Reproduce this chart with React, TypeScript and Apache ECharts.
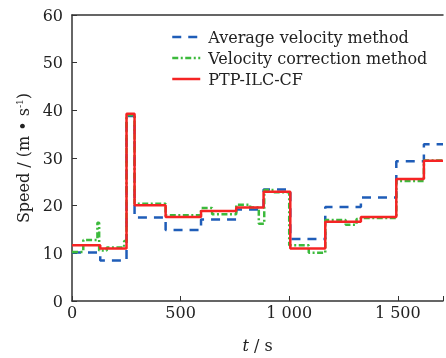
import React, { useEffect, useRef } from "react";
import * as echarts from "echarts";

// Step start times (s) and speeds (m/s)
const stepTimes = [0, 130, 251, 288, 431, 594, 756, 882, 1005, 1166, 1330, 1493, 1620, 1708];
const avgVelocity = [10.2, 8.5, 38.8, 17.5, 14.9, 17.1, 19.2, 23.4, 13.0, 19.7, 21.7, 29.3, 32.9, 32.9];
const ptpIlcCf = [11.7, 11.0, 39.3, 20.1, 17.6, 18.9, 19.6, 22.9, 11.0, 16.6, 17.6, 25.6, 29.4, 29.4];

const corrTimes = [0, 52, 117, 125, 160, 240, 251, 288, 431, 594, 645, 756, 820, 860, 885, 930, 1000, 1090, 1166, 1260, 1310, 1330, 1493, 1620, 1708];
const corrVelocity = [10.3, 12.8, 16.4, 10.6, 11.2, 12.6, 39.0, 20.4, 18.0, 19.5, 18.2, 20.2, 19.6, 16.2, 23.3, 22.8, 11.7, 10.1, 17.0, 16.0, 17.2, 17.4, 25.2, 29.5, 29.6];

const xTicks = [0, 500, 1000, 1500];
const seriesNames = ["Average velocity method", "Velocity correction method", "PTP-ILC-CF"];

const FONT = "DejaVu Serif";

export default function App() {
  const ref = useRef<HTMLDivElement>(null);
  useEffect(() => {
    if (!ref.current) return;
    const chart = echarts.init(ref.current, undefined, { renderer: "svg" });
    const pair = (t: number[], v: number[]) => t.map((x, i) => [x, v[i]]);
    const axisColor = "#333";
    chart.setOption({
      animation: false,
      textStyle: { fontFamily: FONT },
      grid: { left: 72, top: 15, right: 0, bottom: 55, containLabel: false },
      legend: {
        orient: "vertical",
        left: 166,
        top: 24,
        itemWidth: 28,
        itemHeight: 12,
        itemGap: 5,
        data: seriesNames,
        itemStyle: { opacity: 0 },
        lineStyle: { width: 2.5 },
        textStyle: { fontFamily: FONT, fontSize: 16, color: "#222", padding: [0, 0, 0, 3] },
      },
      xAxis: [
        {
          type: "value",
          min: 0,
          max: 1708,
          interval: 500,
          name: "{i|t} / s",
          nameLocation: "middle",
          nameGap: 36,
          nameTextStyle: {
            fontFamily: FONT,
            fontSize: 16,
            color: "#222",
            rich: { i: { fontStyle: "italic", fontFamily: FONT, fontSize: 16, color: "#222" } },
          },
          axisLine: { show: true, lineStyle: { color: axisColor, width: 1.5 } },
          axisTick: { show: true, inside: true, length: 5, lineStyle: { color: axisColor } },
          axisLabel: {
            fontFamily: FONT,
            fontSize: 16,
            color: "#222",
            margin: 3,
            formatter: (v: number) =>
              xTicks.includes(v) ? (v >= 1000 ? `${Math.floor(v / 1000)} ${String(v % 1000).padStart(3, "0")}` : String(v)) : "",
          },
          splitLine: { show: false },
        },
        {
          type: "value",
          position: "top",
          min: 0,
          max: 1708,
          axisLine: { show: true, lineStyle: { color: axisColor, width: 1.5 } },
          axisTick: { show: false },
          axisLabel: { show: false },
          splitLine: { show: false },
        },
      ],
      yAxis: {
        type: "value",
        min: 0,
        max: 60,
        interval: 10,
        name: "Speed / (m • s{sup|-1})",
        nameLocation: "middle",
        nameGap: 40,
        nameRotate: 90,
        nameTextStyle: {
          fontFamily: FONT,
          fontSize: 16,
          color: "#222",
          rich: { sup: { fontFamily: FONT, fontSize: 9, color: "#222", verticalAlign: "top", padding: [0, 0, 8, 0] } },
        },
        axisLine: { show: true, lineStyle: { color: axisColor, width: 1.5 } },
        axisTick: { show: true, inside: true, length: 5, lineStyle: { color: axisColor } },
        axisLabel: { fontFamily: FONT, fontSize: 16, color: "#222", margin: 9 },
        splitLine: { show: false },
      },
      series: [
        {
          name: seriesNames[0],
          type: "line",
          step: "end",
          symbol: "none",
          data: pair(stepTimes, avgVelocity),
          itemStyle: { color: "#1f5db8" },
          lineStyle: { color: "#1f5db8", width: 2.5, type: [9, 7] },
        },
        {
          name: seriesNames[1],
          type: "line",
          step: "end",
          symbol: "none",
          data: pair(corrTimes, corrVelocity),
          itemStyle: { color: "#3cba3c" },
          lineStyle: { color: "#3cba3c", width: 2.5, type: [6, 2.5, 2, 2.5] },
        },
        {
          name: seriesNames[2],
          type: "line",
          step: "end",
          symbol: "none",
          data: pair(stepTimes, ptpIlcCf),
          itemStyle: { color: "#f52424" },
          lineStyle: { color: "#f52424", width: 2.5 },
        },
      ],
    });
    return () => chart.dispose();
  }, []);
  return <div ref={ref} style={{ position: "fixed", left: 0, top: 0, width: 446, height: 358 }} />;
}
